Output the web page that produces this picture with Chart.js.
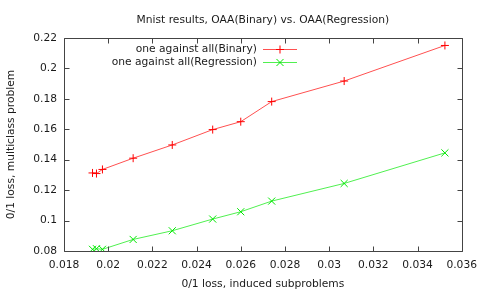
<!DOCTYPE html>
<html>
<head>
<meta charset="utf-8">
<script src="https://cdn.jsdelivr.net/npm/chart.js@4.4.0/dist/chart.umd.min.js"></script>
<style>
  html, body { margin: 0; padding: 0; background: #fff; }
  #wrap { width: 485px; height: 291px; position: relative; }
</style>
</head>
<body>
<div id="wrap"><canvas id="c" width="485" height="291"></canvas></div>
<script>
const chartTitle = "Mnist results, OAA(Binary) vs. OAA(Regression)";
const xTitle = "0/1 loss, induced subproblems";
const yTitle = "0/1 loss, multiclass problem";
const seriesNames = ["one against all(Binary)", "one against all(Regression)"];
const xValues = [0.01929, 0.01947, 0.01974, 0.02113, 0.0229, 0.02473, 0.026, 0.0274, 0.03068, 0.03524];
const yBinary = [0.1313, 0.1309, 0.1336, 0.1410, 0.1497, 0.1598, 0.1650, 0.1782, 0.1917, 0.2151];
const yRegression = [0.0811, 0.0815, 0.0811, 0.0876, 0.0933, 0.1010, 0.1058, 0.1128, 0.1244, 0.1445];
const xTicks = [0.018, 0.02, 0.022, 0.024, 0.026, 0.028, 0.03, 0.032, 0.034, 0.036];
const yTicks = [0.08, 0.1, 0.12, 0.14, 0.16, 0.18, 0.2, 0.22];

const FONT = "'DejaVu Sans', sans-serif";
const FS = 10.7;
const TEXT = '#1a1a1a';

const framePlugin = {
  id: 'frame',
  afterDatasetsDraw(chart) {
    const ctx = chart.ctx;
    const a = chart.chartArea;
    const xs = chart.scales.x, ys = chart.scales.y;
    ctx.save();
    ctx.strokeStyle = '#444';
    ctx.lineWidth = 1;
    ctx.beginPath();
    const L = Math.round(a.left) + 0.5, R = Math.round(a.right) + 0.5;
    const T = Math.round(a.top) + 0.5, B = Math.round(a.bottom) + 0.5;
    ctx.rect(L, T, R - L, B - T);
    const tl = 5;
    xs.ticks.forEach(t => {
      const px = Math.round(xs.getPixelForValue(t.value)) + 0.5;
      ctx.moveTo(px, B); ctx.lineTo(px, B - tl);
      ctx.moveTo(px, T); ctx.lineTo(px, T + tl);
    });
    ys.ticks.forEach(t => {
      const py = Math.round(ys.getPixelForValue(t.value)) + 0.5;
      ctx.moveTo(L, py); ctx.lineTo(L + tl, py);
      ctx.moveTo(R, py); ctx.lineTo(R - tl, py);
    });
    ctx.stroke();

    // title
    ctx.fillStyle = TEXT;
    ctx.font = FS + 'px ' + FONT;
    ctx.textAlign = 'center';
    ctx.textBaseline = 'middle';
    ctx.fillText(chartTitle, (a.left + a.right) / 2, 20);

    // legend
    const entries = chart.data.datasets;
    ctx.textAlign = 'right';
    entries.forEach((ds, i) => {
      const y = 49 + i * 13;
      ctx.fillStyle = TEXT;
      ctx.fillText(ds.label, 257, y);
      ctx.strokeStyle = ds.borderColor;
      ctx.lineWidth = 1;
      ctx.beginPath();
      ctx.moveTo(263, y + 0.5); ctx.lineTo(297, y + 0.5);
      ctx.stroke();
      ctx.strokeStyle = ds.pointBorderColor;
      Chart.helpers.drawPoint(ctx, {
        pointStyle: ds.pointStyle, radius: ds.pointRadius, borderWidth: 1, rotation: 0
      }, 280, y + 0.5);
    });
    ctx.restore();
  }
};

new Chart(document.getElementById('c'), {
  type: 'scatter',
  data: {
    datasets: [
      {
        label: seriesNames[0],
        data: xValues.map((x, i) => ({ x: x, y: yBinary[i] })),
        showLine: true,
        borderColor: 'rgb(255,80,80)',
        backgroundColor: 'rgb(255,0,0)',
        borderWidth: 1,
        pointStyle: 'cross',
        pointRadius: 4,
        pointBorderColor: 'rgb(255,0,0)',
        pointBorderWidth: 1,
        tension: 0
      },
      {
        label: seriesNames[1],
        data: xValues.map((x, i) => ({ x: x, y: yRegression[i] })),
        showLine: true,
        borderColor: 'rgb(80,240,80)',
        backgroundColor: 'rgb(0,255,0)',
        borderWidth: 1,
        pointStyle: 'crossRot',
        pointRadius: 5,
        pointBorderColor: 'rgb(0,230,0)',
        pointBorderWidth: 1,
        tension: 0
      }
    ]
  },
  options: {
    responsive: false,
    animation: false,
    devicePixelRatio: 1,
    layout: { padding: { top: 38, right: 21, left: 0, bottom: 0 } },
    plugins: { legend: { display: false }, title: { display: false }, tooltip: { enabled: false } },
    scales: {
      x: {
        type: 'linear',
        min: xTicks[0], max: xTicks[xTicks.length - 1],
        afterBuildTicks(s) { s.ticks = xTicks.map(v => ({ value: v })); },
        afterFit(s) { s.height = 40; },
        grid: { display: false, drawTicks: false },
        border: { display: false },
        ticks: {
          padding: 8,
          color: TEXT,
          font: { family: FONT, size: FS },
          maxRotation: 0,
          autoSkip: false,
          callback: v => String(v)
        },
        title: { display: true, text: xTitle, color: TEXT, font: { family: FONT, size: FS }, padding: { top: 4, bottom: 0 } }
      },
      y: {
        type: 'linear',
        min: yTicks[0], max: yTicks[yTicks.length - 1],
        afterBuildTicks(s) { s.ticks = yTicks.map(v => ({ value: v })); },
        afterFit(s) { s.width = 64; },
        grid: { display: false, drawTicks: false },
        border: { display: false },
        ticks: {
          padding: 7,
          color: TEXT,
          font: { family: FONT, size: FS },
          autoSkip: false,
          callback: v => String(v)
        },
        title: { display: true, text: yTitle, color: TEXT, font: { family: FONT, size: FS }, padding: { top: 5, bottom: 0 } }
      }
    }
  },
  plugins: [framePlugin]
});
</script>
</body>
</html>
